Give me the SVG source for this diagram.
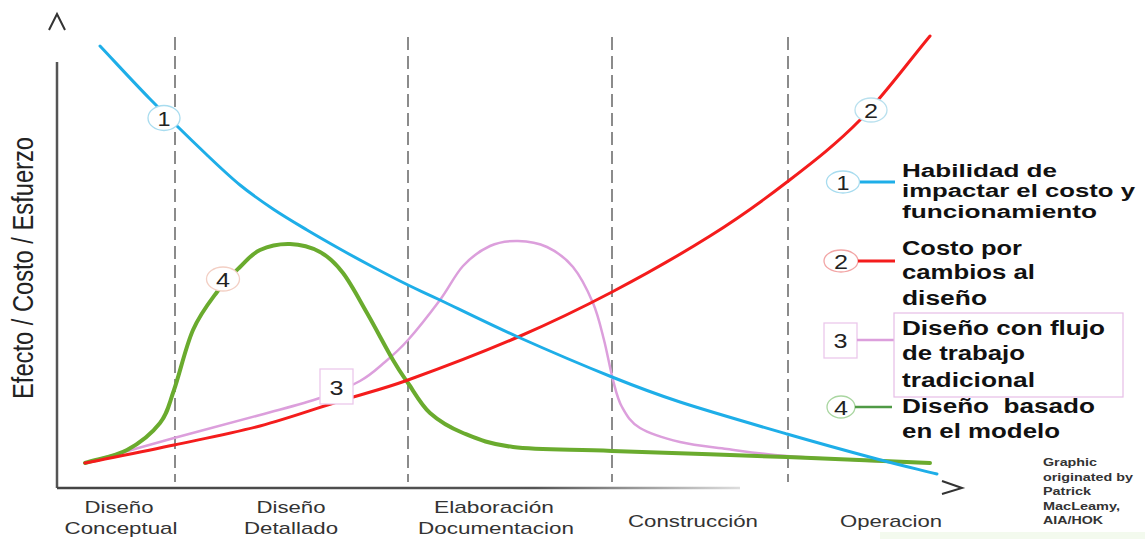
<svg xmlns="http://www.w3.org/2000/svg" width="1145" height="539" viewBox="0 0 1145 539">
<style>
text{font-family:"Liberation Sans",Arial,sans-serif}
.leg{font-weight:bold;font-size:20px;fill:#111}
.leg18{font-size:18px}
.ph{font-size:17px;fill:#333;text-anchor:middle}
.num{font-size:21px;fill:#222;text-anchor:middle}
.credit{font-size:11px;font-weight:bold;fill:#333}
.dash{stroke:#666;stroke-width:1.5;stroke-dasharray:13 6;fill:none}
.curve{fill:none;stroke-linecap:round;stroke-linejoin:round}
.blue{stroke:#1eaee8;stroke-width:3}
.red{stroke:#f41c1c;stroke-width:3}
.pink{stroke:#dc9fdc;stroke-width:2.5}
.green{stroke:#6aab2e;stroke-width:4}
.tag{fill:#fff;stroke-width:1.3}
</style>
<defs>
<linearGradient id="xfade" x1="57" y1="0" x2="740" y2="0" gradientUnits="userSpaceOnUse">
<stop offset="0" stop-color="#444"/>
<stop offset="0.7" stop-color="#555"/>
<stop offset="1" stop-color="#ddd"/>
</linearGradient>
</defs>
<rect x="0" y="0" width="1145" height="539" fill="#fff"/>
<rect x="880" y="532" width="265" height="7" fill="#f3faee"/>

<g id="axes">
<line x1="57" y1="62" x2="57" y2="488" stroke="#555" stroke-width="2.5"/>
<line x1="57" y1="488" x2="740" y2="488" stroke="url(#xfade)" stroke-width="2.5"/>
<polyline points="49,30 57,14 65,30" fill="none" stroke="#333" stroke-width="2"/>
<polyline points="942,481 962,488 942,494" fill="none" stroke="#333" stroke-width="2"/>
<text transform="translate(33,268) scale(1.3,1) rotate(-90)" font-size="23" fill="#222" text-anchor="middle" textLength="262" lengthAdjust="spacingAndGlyphs">Efecto / Costo / Esfuerzo</text>
</g>

<g id="phase-dividers">
<line class="dash" x1="175" y1="37" x2="175" y2="482"/>
<line class="dash" x1="408" y1="37" x2="408" y2="482"/>
<line class="dash" x1="612" y1="37" x2="612" y2="482"/>
<line class="dash" x1="788" y1="37" x2="788" y2="482"/>
</g>

<g id="connectors">
<path id="curve-3" class="curve pink" d="M85,463 C114.7,454.7 144.8,446 174,438 C203.2,430 235.7,421.7 260,415 C284.3,408.3 303.3,403.7 320,398 C336.7,392.3 349.2,387 360,381 C370.8,375 377,368.8 385,362 C393,355.2 398.8,350.3 408,340 C417.2,329.7 430.8,312.3 440,300 C449.2,287.7 454.7,275 463,266 C471.3,257 480.8,250.2 490,246 C499.2,241.8 508.5,240.8 518,241 C527.5,241.2 537.8,242.7 547,247 C556.2,251.3 565.3,257.7 573,267 C580.7,276.3 587.8,290.8 593,303 C598.2,315.2 600.7,327.2 604,340 C607.3,352.8 610,368.8 613,380 C616,391.2 617.5,399 622,407 C626.5,415 630.3,422.2 640,428 C649.7,433.8 665.5,438.5 680,442 C694.5,445.5 709.2,446.7 727,449 C744.8,451.3 759.3,453.8 787,456 C814.7,458.2 869.2,460.8 893,462 C916.8,463.2 917.7,462.7 930,463"/>
<path id="curve-4" class="curve green" d="M85,463 C99,458.7 114.5,456.7 127,450 C139.5,443.3 152.2,433 160,423 C167.8,413 168.5,405.5 174,390 C179.5,374.5 185.8,346.3 193,330 C200.2,313.7 209.2,302.5 217,292 C224.8,281.5 232.8,274 240,267 C247.2,260 251.7,253.8 260,250 C268.3,246.2 280,243.7 290,244 C300,244.3 311.2,247.2 320,252 C328.8,256.8 335.2,262.8 343,273 C350.8,283.2 358.7,298.5 367,313 C375.3,327.5 386.2,348.3 393,360 C399.8,371.7 401.8,374.2 408,383 C414.2,391.8 420.8,404.7 430,413 C439.2,421.3 449.2,427.3 463,433 C476.8,438.7 488.2,444 513,447 C537.8,450 566.3,449.3 612,451 C657.7,452.7 734,455 787,457 C840,459 882.3,461 930,463"/>
<path id="curve-2" class="curve red" d="M85,463 C114.7,457 144.8,451.2 174,445 C203.2,438.8 231.8,433.5 260,426 C288.2,418.5 318.3,407.7 343,400 C367.7,392.3 378.8,390.5 408,380 C437.2,369.5 484,351.7 518,337 C552,322.3 580,308.8 612,292 C644,275.2 680.8,254.3 710,236 C739.2,217.7 762,201.3 787,182 C812,162.7 836.2,144.3 860,120 C883.8,95.7 906.7,64 930,36"/>
<path id="curve-1" class="curve blue" d="M100,46 C116.7,63.7 132.2,80.8 150,99 C167.8,117.2 192,140.7 207,155 C222,169.3 229,176 240,185 C251,194 261.8,201.5 273,209 C284.2,216.5 295.8,223.3 307,230 C318.2,236.7 329,242.8 340,249 C351,255.2 361.7,261 373,267 C384.3,273 396.8,279.5 408,285 C419.2,290.5 421.7,291.3 440,300 C458.3,308.7 489.3,324.2 518,337 C546.7,349.8 585,366.2 612,377 C639,387.8 650.8,392.5 680,402 C709.2,411.5 754.2,424.5 787,434 C819.8,443.5 852,452.3 877,459 C902,465.7 917,469 937,474"/>
</g>

<g id="curve-label-1">
<ellipse class="tag" cx="164" cy="118" rx="16" ry="12.5" stroke="#a8dcef"/>
<text class="num" x="164" y="125.5" textLength="13" lengthAdjust="spacingAndGlyphs">1</text>
</g>
<g id="curve-label-2">
<ellipse class="tag" cx="871" cy="110" rx="16" ry="12" stroke="#b8e0ee"/>
<text class="num" x="871" y="117.5" textLength="14" lengthAdjust="spacingAndGlyphs">2</text>
</g>
<g id="curve-label-3">
<rect class="tag" x="320" y="369" width="33" height="35" stroke="#ebc8eb"/>
<text class="num" x="336.5" y="394.5" textLength="14" lengthAdjust="spacingAndGlyphs">3</text>
</g>
<g id="curve-label-4">
<ellipse class="tag" cx="223" cy="279" rx="16.5" ry="12" stroke="#f3cfc4"/>
<text class="num" x="223" y="286.5" textLength="14" lengthAdjust="spacingAndGlyphs">4</text>
</g>

<g id="legend-1">
<ellipse class="tag" cx="843" cy="182" rx="16.5" ry="11" stroke="#a8dcef"/>
<text class="num" x="843" y="189.5" textLength="13" lengthAdjust="spacingAndGlyphs">1</text>
<line x1="860" y1="182" x2="895" y2="182" class="blue"/>
<text class="leg leg18" x="902" y="176.5" textLength="155" lengthAdjust="spacingAndGlyphs">Habilidad de</text>
<text class="leg leg18" x="902" y="197" textLength="233" lengthAdjust="spacingAndGlyphs">impactar el costo y</text>
<text class="leg leg18" x="902" y="217.5" textLength="195" lengthAdjust="spacingAndGlyphs">funcionamiento</text>
</g>
<g id="legend-2">
<ellipse class="tag" cx="841" cy="261" rx="17" ry="11" stroke="#f2a5a5"/>
<text class="num" x="841" y="268.5" textLength="14" lengthAdjust="spacingAndGlyphs">2</text>
<line x1="858" y1="261" x2="895" y2="261" class="red"/>
<text class="leg" x="902" y="255" textLength="120" lengthAdjust="spacingAndGlyphs">Costo por</text>
<text class="leg" x="902" y="279" textLength="133" lengthAdjust="spacingAndGlyphs">cambios al</text>
<text class="leg" x="902" y="305" textLength="85" lengthAdjust="spacingAndGlyphs">diseño</text>
</g>
<g id="legend-3">
<rect class="tag" x="824" y="323" width="33" height="35" stroke="#ebc8eb"/>
<text class="num" x="840.5" y="347.5" textLength="14" lengthAdjust="spacingAndGlyphs">3</text>
<line x1="857" y1="340" x2="894" y2="340" class="pink" stroke-width="2"/>
<rect x="894" y="313" width="229" height="84" fill="none" stroke="#e6bde6" stroke-width="1.2"/>
<text class="leg" x="902" y="335" textLength="203" lengthAdjust="spacingAndGlyphs">Diseño con flujo</text>
<text class="leg" x="902" y="360" textLength="123" lengthAdjust="spacingAndGlyphs">de trabajo</text>
<text class="leg" x="902" y="387" textLength="133" lengthAdjust="spacingAndGlyphs">tradicional</text>
</g>
<g id="legend-4">
<ellipse class="tag" cx="841" cy="407" rx="14" ry="11" stroke="#a9d6a0"/>
<text class="num" x="841" y="414.5" textLength="14" lengthAdjust="spacingAndGlyphs">4</text>
<line x1="855" y1="407" x2="892" y2="407" stroke="#4f9a45" stroke-width="2.5"/>
<text class="leg" x="902" y="413" textLength="193" lengthAdjust="spacingAndGlyphs" xml:space="preserve">Diseño  basado</text>
<text class="leg" x="902" y="438" textLength="158" lengthAdjust="spacingAndGlyphs">en el modelo</text>
</g>

<g id="phase-labels">
<text class="ph" x="119" y="513" textLength="69" lengthAdjust="spacingAndGlyphs">Diseño</text>
<text class="ph" x="121" y="534" textLength="113" lengthAdjust="spacingAndGlyphs">Conceptual</text>
<text class="ph" x="291" y="513" textLength="69" lengthAdjust="spacingAndGlyphs">Diseño</text>
<text class="ph" x="291" y="534" textLength="94" lengthAdjust="spacingAndGlyphs">Detallado</text>
<text class="ph" x="494" y="513" textLength="120" lengthAdjust="spacingAndGlyphs">Elaboración</text>
<text class="ph" x="496" y="534" textLength="156" lengthAdjust="spacingAndGlyphs">Documentacion</text>
<text class="ph" x="693" y="527" textLength="130" lengthAdjust="spacingAndGlyphs">Construcción</text>
<text class="ph" x="891" y="527" textLength="102" lengthAdjust="spacingAndGlyphs">Operacion</text>
</g>

<g id="credit">
<text class="credit" x="1043" y="466" textLength="54" lengthAdjust="spacingAndGlyphs">Graphic</text>
<text class="credit" x="1043" y="481" textLength="90" lengthAdjust="spacingAndGlyphs">originated by</text>
<text class="credit" x="1043" y="495" textLength="48" lengthAdjust="spacingAndGlyphs">Patrick</text>
<text class="credit" x="1043" y="510" textLength="77" lengthAdjust="spacingAndGlyphs">MacLeamy,</text>
<text class="credit" x="1043" y="524" textLength="60" lengthAdjust="spacingAndGlyphs">AIA/HOK</text>
</g>
</svg>
